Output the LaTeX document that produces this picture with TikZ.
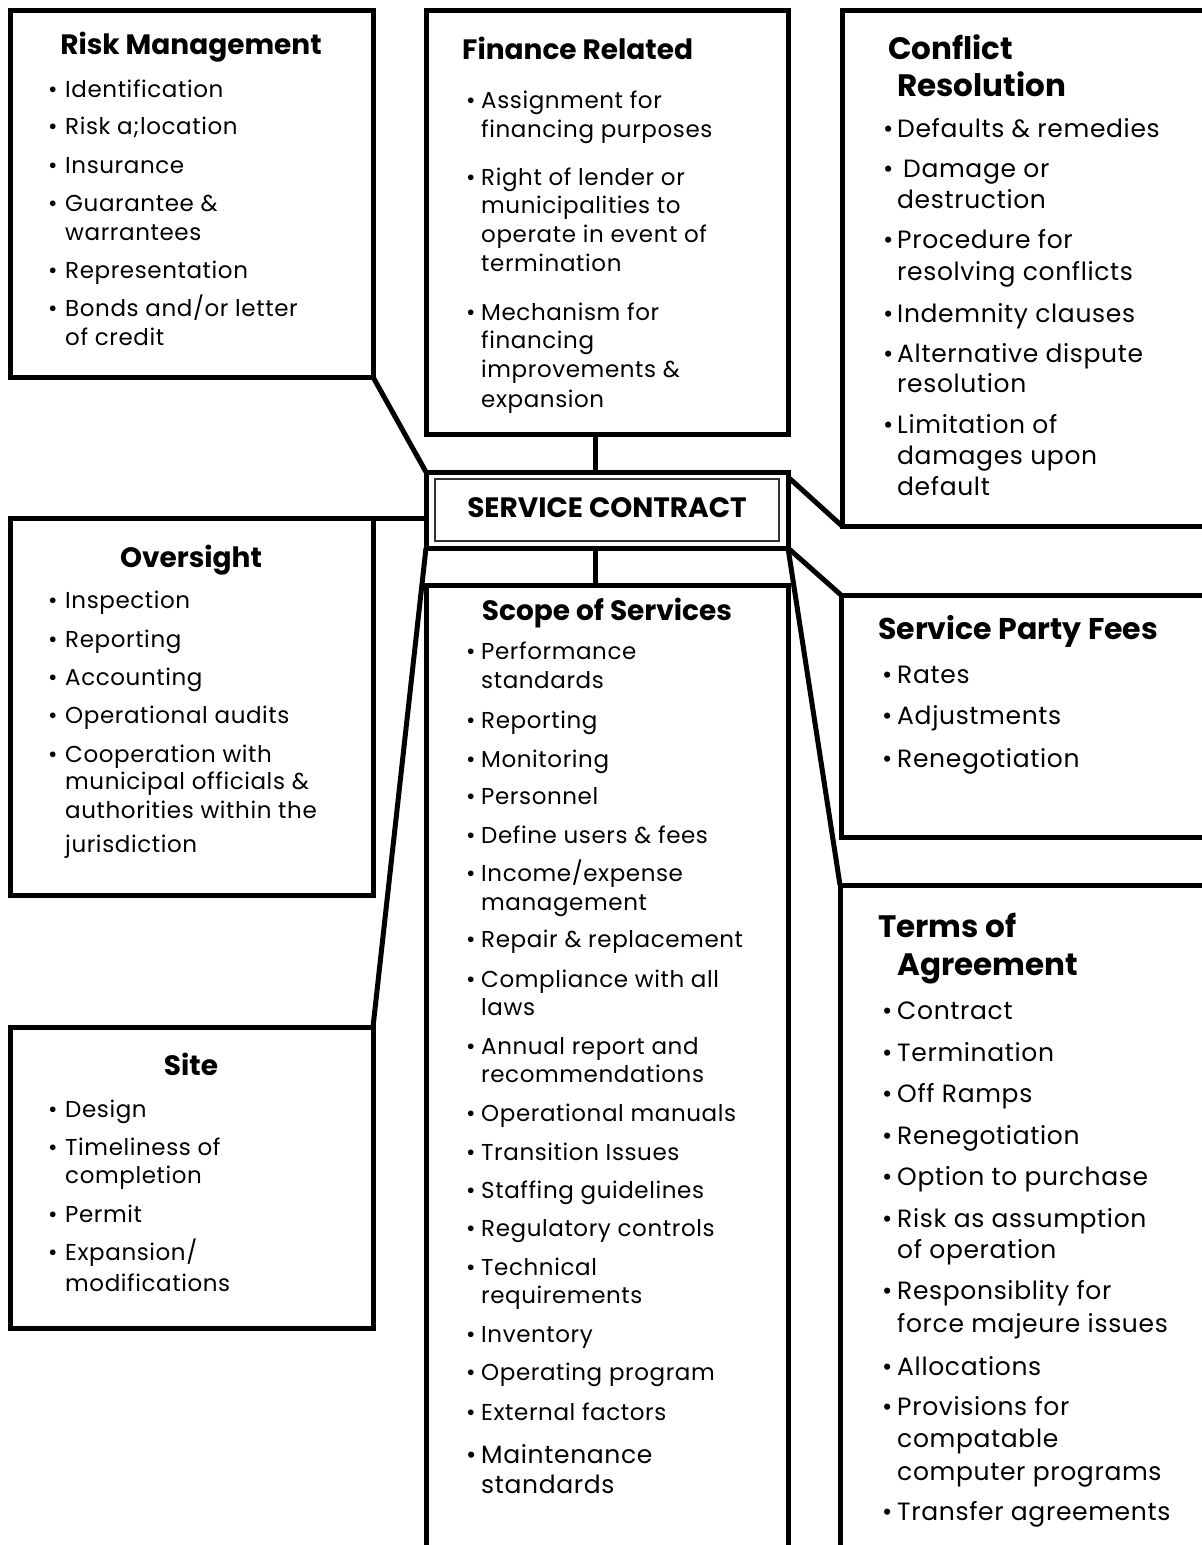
\documentclass[tikz,border=0pt]{standalone}
\usepackage{fontspec}
\setmainfont{Poppins}
\usetikzlibrary{calc}
\def\isz{23}
\newcommand{\itemfont}{\fontsize{\isz}{28}\selectfont\addfontfeature{LetterSpace=2.6}}
\newcommand{\headfont}{\fontsize{28}{34}\selectfont\bfseries}
\newcommand{\bigheadfont}{\fontsize{31}{36}\selectfont\bfseries}
\newcommand{\bl}[3]{\node[itm] (#1) at (\bx,#2) {\makebox[\bw pt][l]{•}#3};}
\newcommand{\cl}[3]{\node[itm] (#1) at (\bx,#2) {\hspace*{\bw pt}#3};}
\tikzset{
  box/.style={draw=black, line width=5pt, rectangle, inner sep=0pt, outer sep=0pt, anchor=north west, fill=white},
  innerbox/.style={draw=black!80, line width=1.3pt, rectangle, inner sep=0pt, outer sep=0pt, anchor=north west},
  head/.style={font=\headfont, anchor=base, inner sep=0pt, text=black},
  headw/.style={font=\headfont, anchor=base west, inner sep=0pt, text=black},
  bighead/.style={font=\bigheadfont, anchor=base west, inner sep=0pt, text=black},
  itm/.style={font=\itemfont, anchor=base west, inner sep=0pt, text=black},
  link/.style={draw=black, line width=5pt},
}
\begin{document}
\begin{tikzpicture}[x=1pt,y=-1pt]
\useasboundingbox (0,0) rectangle (1202,1545);
\fill[white] (0,0) rectangle (1202,1545);
\clip (0,0) rectangle (1202,1545);

% ---------- boxes ----------
\node[box, minimum width=363pt, minimum height=367pt] (risk) at (10,10) {};
\node[box, minimum width=362pt, minimum height=424pt] (finance) at (426,10) {};
\node[box, minimum width=362pt, minimum height=516pt] (conflict) at (842,10) {};
\node[box, minimum width=362pt, minimum height=76pt] (central) at (426,472) {};
\node[innerbox, minimum width=344pt, minimum height=62pt] (centralin) at (435,479) {};
\node[box, minimum width=363pt, minimum height=377pt] (oversight) at (10,518) {};
\node[box, minimum width=362pt, minimum height=1015pt] (scope) at (426,585) {};
\node[box, minimum width=363pt, minimum height=242pt] (fees) at (841,595) {};
\node[box, minimum width=363pt, minimum height=301pt] (site) at (10,1027) {};
\node[box, minimum width=364pt, minimum height=715pt] (terms) at (840,885) {};

% ---------- connectors ----------
\draw[link] (risk.south east) -- (central.north west);
\draw[link] ([xshift=-12pt]finance.south) -- ([xshift=-12pt]central.north);
\draw[link] ([xshift=-12pt]central.south) -- ([xshift=-12pt]scope.north);
\draw[link] (oversight.north east) -- (oversight.north east -| central.west);
\draw[link] (site.north east) -- (central.south west);
\draw[link] ([yshift=-5pt]central.north east) -- (conflict.south west);
\draw[link] (central.south east) -- (fees.north west);
\draw[link] (central.south east) -- (terms.north west);

% ---------- central ----------
\node[font=\fontsize{28}{34}\selectfont\bfseries, anchor=base, inner sep=0pt] (ctext) at (607,517) {SERVICE CONTRACT};

% ---------- Risk Management ----------
\node[head] (riskh) at (191,54) {Risk Management};
\def\bx{48}\def\bw{17}
\bl{r1}{97}{Identification}
\bl{r2}{134}{Risk a;location}
\bl{r3}{173}{Insurance}
\bl{r4}{211}{Guarantee \&}
\cl{r5}{240}{warrantees}
\bl{r6}{278}{Representation}
\bl{r7}{316}{Bonds and/or letter}
\cl{r8}{345}{of credit}

% ---------- Finance Related ----------
\node[headw] (finh) at (462,59) {Finance Related};
\def\bx{466}\def\bw{15}
\bl{f1}{108}{Assignment for}
\cl{f2}{137}{financing purposes}
\bl{f3}{185}{Right of lender or}
\cl{f4}{213}{municipalities to}
\cl{f5}{242}{operate in event of}
\cl{f6}{271}{termination}
\bl{f7}{320}{Mechanism for}
\cl{f8}{348}{financing}
\cl{f9}{377}{improvements \&}
\cl{f10}{407}{expansion}

% ---------- Oversight ----------
\node[head] (overh) at (191,567) {Oversight};
\def\bx{48}\def\bw{17}
\bl{o1}{608}{Inspection}
\bl{o2}{647}{Reporting}
\bl{o3}{685}{Accounting}
\bl{o4}{723}{Operational audits}
\bl{o5}{762}{Cooperation with}
\cl{o6}{789}{municipal officials \&}
\cl{o7}{818}{authorities within the}
\cl{o8}{852}{jurisdiction}

% ---------- Site ----------
\node[head] (siteh) at (191,1075) {Site};
\bl{s1}{1117}{Design}
\bl{s2}{1155}{Timeliness of}
\cl{s3}{1183}{completion}
\bl{s4}{1222}{Permit}
\bl{s5}{1260}{Expansion/}
\cl{s6}{1291}{modifications}

% ---------- Scope of Services ----------
\node[head] (scopeh) at (607,620) {Scope of Services};
\def\bx{466}\def\bw{15}
\bl{p1}{659}{Performance}
\cl{p2}{688}{standards}
\bl{p3}{728}{Reporting}
\bl{p4}{767}{Monitoring}
\bl{p5}{804}{Personnel}
\bl{p6}{843}{Define users \& fees}
\bl{p7}{881}{Income/expense}
\cl{p8}{910}{management}
\bl{p9}{947}{Repair \& replacement}
\bl{p10}{987}{Compliance with all}
\cl{p11}{1015}{laws}
\bl{p12}{1054}{Annual report and}
\cl{p13}{1082}{recommendations}
\bl{p14}{1121}{Operational manuals}
\bl{p15}{1160}{Transition Issues}
\bl{p16}{1198}{Staffing guidelines}
\bl{p17}{1236}{Regulatory controls}
\bl{p18}{1275}{Technical}
\cl{p19}{1303}{requirements}
\bl{p20}{1342}{Inventory}
\bl{p21}{1380}{Operating program}
\bl{p22}{1420}{External factors}
\def\isz{25}
\bl{p23}{1463}{Maintenance}
\cl{p24}{1493}{standards}

% ---------- Conflict Resolution ----------
\node[bighead] (confh1) at (888,59) {Conflict};
\node[bighead] (confh2) at (897,96) {Resolution};
\def\bx{883}\def\bw{14}
\bl{c1}{137}{Defaults \& remedies}
\bl{c2}{177}{\hspace{6pt}Damage or}
\cl{c3}{208}{destruction}
\bl{c4}{248}{Procedure for}
\cl{c5}{280}{resolving conflicts}
\bl{c6}{322}{Indemnity clauses}
\bl{c7}{362}{Alternative dispute}
\cl{c8}{392}{resolution}
\bl{c9}{433}{Limitation of}
\cl{c10}{464}{damages upon}
\cl{c11}{495}{default}

% ---------- Service Party Fees ----------
\node[font=\fontsize{30}{35}\selectfont\bfseries, anchor=base west, inner sep=0pt] (feesh) at (878,639) {Service Party Fees};
\def\bx{882}\def\bw{15}
\bl{e1}{683}{Rates}
\bl{e2}{724}{Adjustments}
\bl{e3}{767}{Renegotiation}

% ---------- Terms of Agreement ----------
\node[bighead] (termh1) at (878,937) {Terms of};
\node[bighead] (termh2) at (897,975) {Agreement};
\bl{t1}{1019}{Contract}
\bl{t2}{1061}{Termination}
\bl{t3}{1102}{Off Ramps}
\bl{t4}{1144}{Renegotiation}
\bl{t5}{1185}{Option to purchase}
\bl{t6}{1227}{Risk as assumption}
\cl{t7}{1258}{of operation}
\bl{t8}{1299}{Responsiblity for}
\cl{t9}{1332}{force majeure issues}
\bl{t10}{1375}{Allocations}
\bl{t11}{1415}{Provisions for}
\cl{t12}{1447}{compatable}
\cl{t13}{1480}{computer programs}
\bl{t14}{1520}{Transfer agreements}
\end{tikzpicture}
\end{document}
